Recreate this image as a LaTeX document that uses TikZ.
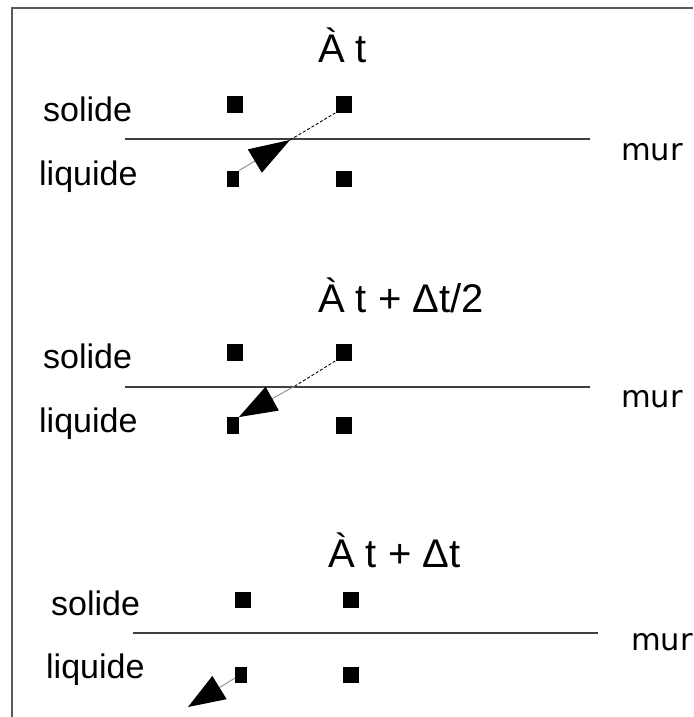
\documentclass[tikz,border=0pt]{standalone}
\usepackage{fontspec}
\setmainfont{Liberation Sans}
\newfontfamily\murfont{DejaVu Sans}
\usetikzlibrary{arrows.meta}
\tikzset{
  sq/.style={fill=black, draw=none, inner sep=0pt, minimum width=16pt, minimum height=16.5pt},
  sqn/.style={sq, minimum width=11.5pt},
  lbl/.style={inner sep=0pt, anchor=base west, font=\fontsize{34}{40}\selectfont},
  ttl/.style={inner sep=0pt, anchor=base west, font=\fontsize{40}{48}\selectfont},
  murl/.style={inner sep=0pt, anchor=base west, font=\murfont\fontsize{30.5}{36}\selectfont},
  wall/.style={draw=black!75, line width=1.3pt},
  frameline/.style={draw=black!65, line width=1.5pt},
  thinl/.style={draw=black!45, line width=0.9pt},
  dashl/.style={draw=black, line width=0.9pt, dash pattern=on 3pt off 2pt},
  bighead/.style={-{Triangle[length=#1, width=27pt, color=black]}},
}
\begin{document}
\begin{tikzpicture}[x=1pt,y=-1pt]
\useasboundingbox (0,0) rectangle (693,717);
\fill[white] (0,0) rectangle (693,717);
\draw[frameline] (12,717) -- (12,8) -- (693,8);

% ---------- panel 1 ----------
\node[ttl] (t1) at (318,63) {À t};
\node[lbl] (s1) at (43,121) {solide};
\node[lbl] (l1) at (39,185) {liquide};
\node[murl] (m1) at (621,160) {mur};
\coordinate (w1a) at (125,139);
\coordinate (w1b) at (590,139);
\draw[wall] (w1a) -- (w1b);
\node[sq]  (tl1) at (235,104.5) {};
\node[sq]  (tr1) at (343.5,104.5) {};
\node[sqn] (bl1) at (233,179) {};
\node[sq]  (br1) at (343.5,179) {};
\coordinate (c1) at (290,140);
\draw[thinl, bighead=41pt] (bl1.north east) -- (c1);
\draw[dashl] (c1) -- (tr1.south west);

% ---------- panel 2 ----------
\node[ttl] (t2) at (318,312) {À t + Δt/2};
\node[lbl] (s2) at (43,368) {solide};
\node[lbl] (l2) at (39,432) {liquide};
\node[murl] (m2) at (621,407) {mur};
\coordinate (w2a) at (125,387);
\coordinate (w2b) at (590,387);
\draw[wall] (w2a) -- (w2b);
\node[sq]  (tl2) at (235,352.5) {};
\node[sq]  (tr2) at (343.5,352.5) {};
\node[sqn] (bl2) at (233,425.5) {};
\node[sq]  (br2) at (343.5,425.5) {};
\coordinate (c2) at (295,386);
\draw[dashl] (tr2.south west) -- (c2);
\draw[thinl, bighead=38pt] (c2) -- (bl2.north east);

% ---------- panel 3 ----------
\node[ttl] (t3) at (328,567) {À t + Δt};
\node[lbl] (s3) at (51,615) {solide};
\node[lbl] (l3) at (46,678) {liquide};
\node[murl] (m3) at (631,650) {mur};
\coordinate (w3a) at (133,633);
\coordinate (w3b) at (598,633);
\draw[wall] (w3a) -- (w3b);
\node[sq]  (tl3) at (243,600) {};
\node[sq]  (tr3) at (351,600) {};
\node[sqn] (bl3) at (241,675) {};
\node[sq]  (br3) at (351,675) {};
\coordinate (s3a) at (235,678);
\coordinate (tip3) at (188,707);
\draw[thinl, bighead=37pt] (s3a) -- (tip3);
\end{tikzpicture}
\end{document}
